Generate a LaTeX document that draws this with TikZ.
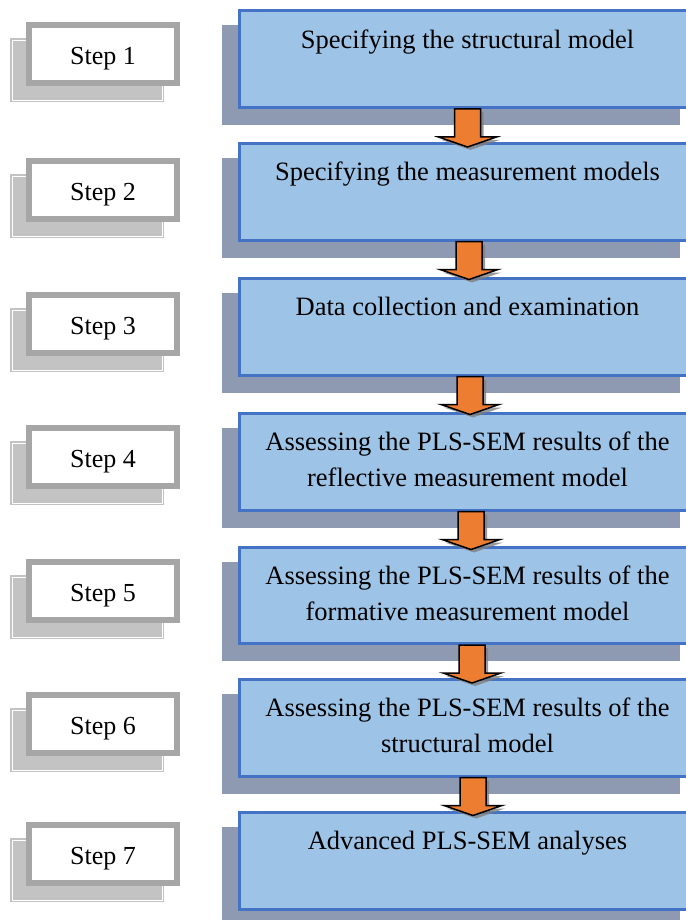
\documentclass[tikz,border=0pt]{standalone}
\usepackage{fontspec}
\setmainfont{Liberation Serif}
\usetikzlibrary{calc,backgrounds}

\definecolor{boxfill}{HTML}{9DC3E6}
\definecolor{boxline}{HTML}{4472C4}
\definecolor{boxshade}{HTML}{8E9AB1}
\definecolor{arrowfill}{HTML}{ED7D31}
\definecolor{arrowshade}{HTML}{7F7F7F}
\definecolor{stepframe}{HTML}{A6A6A6}
\definecolor{stepshade}{HTML}{C3C3C3}

\begin{document}
\begin{tikzpicture}[x=1pt,y=-1pt,
  stepbox/.style={draw=stepframe, line width=6pt, fill=white,
    minimum width=148pt, minimum height=58pt, inner sep=0pt,
    font=\fontsize{26}{30}\selectfont, text height=21pt, text depth=0pt},
  bluebox/.style={draw=boxline, line width=3pt, fill=boxfill,
    minimum width=455pt, minimum height=96.5pt, inner sep=0pt},
  boxtext/.style={anchor=north, inner sep=0pt, align=center,
    font=\fontsize{26.5}{36}\selectfont},
  flowarrow/.style={fill=arrowfill, draw=black, line width=1.5pt, line join=miter},
  flowshade/.style={fill=arrowshade, opacity=0.8}
]
\useasboundingbox (0,0) rectangle (685,920);

% step labels (left column) and process boxes (right column);
% \btop and \stop are the upper outer edges of each box
\foreach \i/\btop/\stop/\txt in {
    1/9.5/22/{Specifying the structural model},
    2/142/158/{Specifying the measurement models},
    3/277/292/{Data collection and examination},
    4/412/425/{Assessing the PLS-SEM results of the\\reflective measurement model},
    5/545.5/559/{Assessing the PLS-SEM results of the\\formative measurement model},
    6/678/692/{Assessing the PLS-SEM results of the\\structural model},
    7/811/822/{Advanced PLS-SEM analyses}}{
  \node[bluebox] (b\i) at (467,\btop+49.75) {};
  \node[boxtext] (t\i) at (467.5,\btop+19.8) {\txt};
  \node[stepbox] (s\i) at (103,\stop+32) {Step \i};
  \begin{scope}[on background layer]
    \fill[boxshade] ($(b\i.north west)+(-16,16)$) rectangle ($(b\i.south east)+(-16,16)$);
    \fill[stepshade] ($(s\i.north west)+(-16,16)$) rectangle ($(s\i.south east)+(-16,16)$);
    \draw[white, line width=0.8pt] ($(s\i.north west)+(-14,18)$) rectangle ($(s\i.south east)+(-18,14)$);
  \end{scope}
}

% block arrows between consecutive boxes
\foreach \i/\j/\dx in {1/2/0.5, 2/3/2, 3/4/3, 4/5/4, 5/6/5, 6/7/6}{
  \begin{scope}[shift={($(b\i.south)+(\dx,0)$)}]
    \fill[flowshade] (-10,3) -- (16,3) -- (16,31) -- (32,31) -- (3,41) -- (-26,31) -- (-10,31) -- cycle;
    \draw[flowarrow] (-13,0) -- (13,0) -- (13,28) -- (29,28) -- (0,38) -- (-29,28) -- (-13,28) -- cycle;
  \end{scope}
}
\end{tikzpicture}
\end{document}
